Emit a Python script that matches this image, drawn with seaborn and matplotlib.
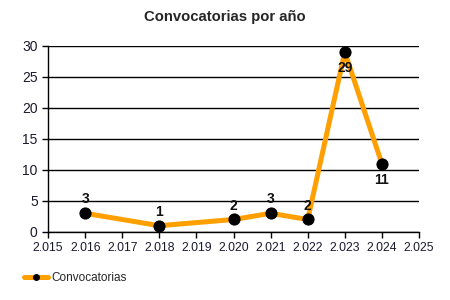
import matplotlib
matplotlib.use("Agg")
import matplotlib.pyplot as plt
import seaborn as sns
import pandas as pd
from matplotlib.ticker import FuncFormatter, MultipleLocator
from matplotlib.lines import Line2D

years = [2016, 2018, 2020, 2021, 2022, 2023, 2024]
values = [3, 1, 2, 3, 2, 29, 11]
label_pos = ["above", "above", "above", "above", "above", "below", "below"]
series_name = "Convocatorias"
title = "Convocatorias por año"

df = pd.DataFrame({"year": years, "value": values})

sns.set_style("white")
plt.rcParams['font.family'] = ['Liberation Sans', 'DejaVu Sans']

fig = plt.figure(figsize=(4.5, 3.0), dpi=100)
ax = fig.add_axes([0.107, 0.227, 0.824, 0.62])

sns.lineplot(data=df, x="year", y="value", ax=ax, color="#FFA000", linewidth=3.6,
             marker="o", markersize=8, markerfacecolor="black", markeredgecolor="black",
             label=series_name, legend=False)

for x, y, p in zip(years, values, label_pos):
    if p == "above":
        ax.annotate(str(y), (x, y), xytext=(0, 5), textcoords="offset points",
                    ha="center", va="bottom", fontsize=10, fontweight="bold", color="#111111")
    else:
        ax.annotate(str(y), (x, y), xytext=(0, -6.5), textcoords="offset points",
                    ha="center", va="top", fontsize=10, fontweight="bold", color="#111111")

ax.set_xlim(2015, 2025)
ax.set_ylim(0, 30)
ax.xaxis.set_major_locator(MultipleLocator(1))
ax.yaxis.set_major_locator(MultipleLocator(5))
ax.xaxis.set_major_formatter(FuncFormatter(lambda v, p: f"{int(round(v)):,}".replace(",", ".")))
ax.set_xlabel("")
ax.set_ylabel("")
ax.grid(axis="y", color="black", linewidth=1)
ax.grid(axis="x", visible=False)
ax.set_axisbelow(True)
for s in ["top", "right"]:
    ax.spines[s].set_visible(False)
for s in ["left", "bottom"]:
    ax.spines[s].set_color("black")
    ax.spines[s].set_linewidth(1)
ax.tick_params(axis="both", which="major", length=4, width=1, color="black",
               labelsize=8.8, labelcolor="#1a1a2e", direction="out", bottom=True, left=True)
ax.tick_params(axis="y", labelsize=10)

fig.suptitle(title, x=0.5, y=0.965, fontsize=10.7, fontweight="bold")

h = Line2D([0], [0], color="#FFA000", linewidth=3.6, marker="o", markersize=4,
           markerfacecolor="black", markeredgecolor="black")
fig.legend([h], [series_name], loc="center left", bbox_to_anchor=(0.03, 0.072),
           frameon=False, fontsize=8.5, handlelength=2.0, handletextpad=0.35)

fig.savefig("out.png", dpi=100)
